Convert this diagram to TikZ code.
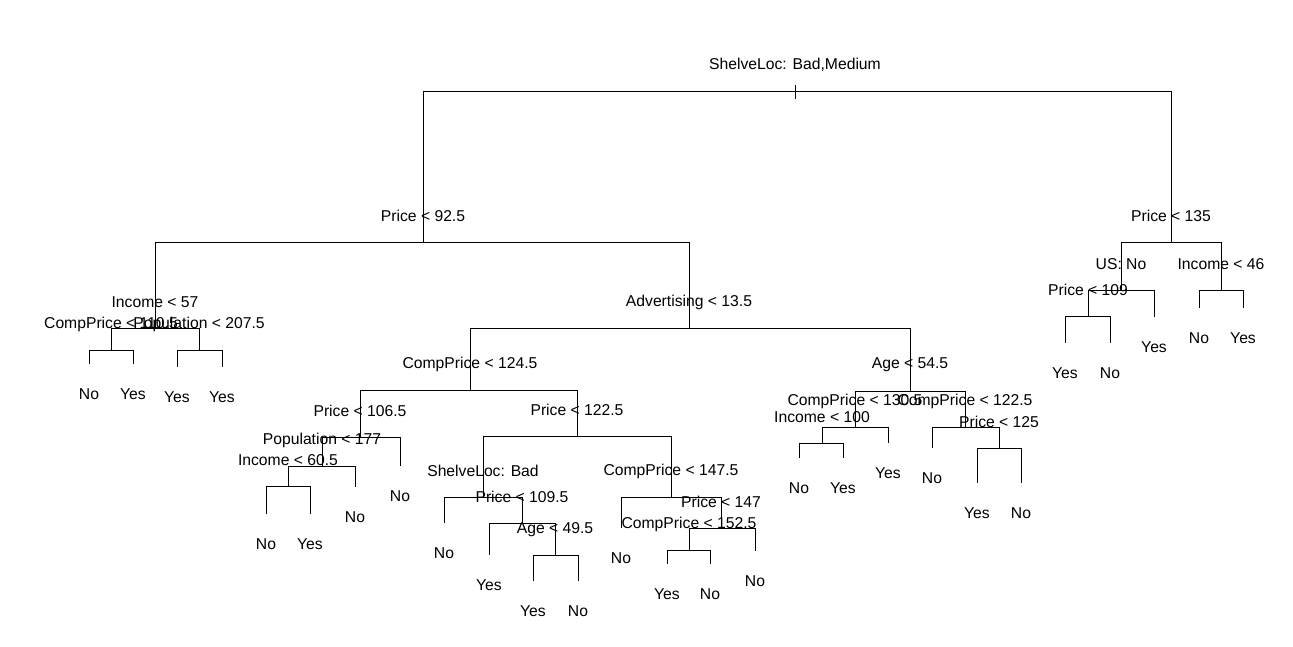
\documentclass[tikz,border=0pt]{standalone}
\usepackage{fontspec}
\setmainfont{Liberation Sans}
\usepackage{tikz}

\begin{document}
\begin{tikzpicture}[
    x=1pt, y=-1pt,
    splitlab/.style={font=\fontsize{15.7}{18}\selectfont, inner sep=0pt, yshift=25.8pt},
    leaflab/.style={font=\fontsize{15.7}{18}\selectfont, inner sep=0pt, yshift=-30.5pt},
    branch/.style={line width=0.9pt}
]
\useasboundingbox (0,0) rectangle (1293,646);

% split points
\coordinate (root) at (795,91);
\coordinate (p925) at (423,242);
\coordinate (inc57) at (155,328);
\coordinate (cp1105) at (111,350);
\coordinate (pop2075) at (199,350);
\coordinate (adv135) at (689,328);
\coordinate (cp1245) at (470,390);
\coordinate (p1065) at (360,437);
\coordinate (pop177) at (322,466);
\coordinate (inc605) at (288,486);
\coordinate (p1225) at (577,436);
\coordinate (shBad) at (483,497);
\coordinate (p1095) at (522,523);
\coordinate (age495) at (555,555);
\coordinate (cp1475) at (671,497);
\coordinate (p147) at (721,528);
\coordinate (cp1525) at (689,550);
\coordinate (age545) at (910,391);
\coordinate (cp1305) at (855,427);
\coordinate (inc100) at (822,443);
\coordinate (cp1225) at (965,427);
\coordinate (p125) at (999,448);
\coordinate (p135) at (1171,242);
\coordinate (usNo) at (1121,290);
\coordinate (p109) at (1088,316);
\coordinate (inc46) at (1221,290);

% leaf ends
\coordinate (l1) at (89,364);
\coordinate (l2) at (133,364);
\coordinate (l3) at (177,367);
\coordinate (l4) at (222,367);
\coordinate (l5) at (266,514);
\coordinate (l6) at (310,514);
\coordinate (l7) at (355,487);
\coordinate (l8) at (400,466);
\coordinate (l9) at (444,523);
\coordinate (l10) at (489,555);
\coordinate (l11) at (533,581);
\coordinate (l12) at (578,581);
\coordinate (l13) at (621,528);
\coordinate (l14) at (667,564);
\coordinate (l15) at (710,564);
\coordinate (l16) at (755,551);
\coordinate (l17) at (799,458);
\coordinate (l18) at (843,458);
\coordinate (l19) at (888,443);
\coordinate (l20) at (932,448);
\coordinate (l21) at (977,483);
\coordinate (l22) at (1021,483);
\coordinate (l23) at (1065,343);
\coordinate (l24) at (1110,343);
\coordinate (l25) at (1154,317);
\coordinate (l26) at (1199,308);
\coordinate (l27) at (1243,308);
\coordinate (rtTop) at (795,85);
\coordinate (rtBot) at (795,99);

% split labels
\node[splitlab] (tRoot) at (root) {ShelveLoc: Bad,Medium};
\node[splitlab] (tP925) at (p925) {Price < 92.5};
\node[splitlab] (tInc57) at (inc57) {Income < 57};
\node[splitlab] (tCp1105) at (cp1105) {CompPrice < 110.5};
\node[splitlab] (tPop2075) at (pop2075) {Population < 207.5};
\node[splitlab] (tAdv135) at (adv135) {Advertising < 13.5};
\node[splitlab] (tCp1245) at (cp1245) {CompPrice < 124.5};
\node[splitlab] (tP1065) at (p1065) {Price < 106.5};
\node[splitlab] (tPop177) at (pop177) {Population < 177};
\node[splitlab] (tInc605) at (inc605) {Income < 60.5};
\node[splitlab] (tP1225) at (p1225) {Price < 122.5};
\node[splitlab] (tShBad) at (shBad) {ShelveLoc: Bad};
\node[splitlab] (tP1095) at (p1095) {Price < 109.5};
\node[splitlab] (tAge495) at (age495) {Age < 49.5};
\node[splitlab] (tCp1475) at (cp1475) {CompPrice < 147.5};
\node[splitlab] (tP147) at (p147) {Price < 147};
\node[splitlab] (tCp1525) at (cp1525) {CompPrice < 152.5};
\node[splitlab] (tAge545) at (age545) {Age < 54.5};
\node[splitlab] (tCp1305) at (cp1305) {CompPrice < 130.5};
\node[splitlab] (tInc100) at (inc100) {Income < 100};
\node[splitlab] (tCp1225) at (cp1225) {CompPrice < 122.5};
\node[splitlab] (tP125) at (p125) {Price < 125};
\node[splitlab] (tP135) at (p135) {Price < 135};
\node[splitlab] (tUsNo) at (usNo) {US: No};
\node[splitlab] (tP109) at (p109) {Price < 109};
\node[splitlab] (tInc46) at (inc46) {Income < 46};

% leaf labels
\node[leaflab] (t1) at (l1) {No};
\node[leaflab] (t2) at (l2) {Yes};
\node[leaflab] (t3) at (l3) {Yes};
\node[leaflab] (t4) at (l4) {Yes};
\node[leaflab] (t5) at (l5) {No};
\node[leaflab] (t6) at (l6) {Yes};
\node[leaflab] (t7) at (l7) {No};
\node[leaflab] (t8) at (l8) {No};
\node[leaflab] (t9) at (l9) {No};
\node[leaflab] (t10) at (l10) {Yes};
\node[leaflab] (t11) at (l11) {Yes};
\node[leaflab] (t12) at (l12) {No};
\node[leaflab] (t13) at (l13) {No};
\node[leaflab] (t14) at (l14) {Yes};
\node[leaflab] (t15) at (l15) {No};
\node[leaflab] (t16) at (l16) {No};
\node[leaflab] (t17) at (l17) {No};
\node[leaflab] (t18) at (l18) {Yes};
\node[leaflab] (t19) at (l19) {Yes};
\node[leaflab] (t20) at (l20) {No};
\node[leaflab] (t21) at (l21) {Yes};
\node[leaflab] (t22) at (l22) {No};
\node[leaflab] (t23) at (l23) {Yes};
\node[leaflab] (t24) at (l24) {No};
\node[leaflab] (t25) at (l25) {Yes};
\node[leaflab] (t26) at (l26) {No};
\node[leaflab] (t27) at (l27) {Yes};

% branches
\draw[branch] (rtTop) -- (rtBot);
\draw[branch] (root) -| (p925);
\draw[branch] (root) -| (p135);
\draw[branch] (p925) -| (inc57);
\draw[branch] (p925) -| (adv135);
\draw[branch] (inc57) -| (cp1105);
\draw[branch] (inc57) -| (pop2075);
\draw[branch] (cp1105) -| (l1);
\draw[branch] (cp1105) -| (l2);
\draw[branch] (pop2075) -| (l3);
\draw[branch] (pop2075) -| (l4);
\draw[branch] (adv135) -| (cp1245);
\draw[branch] (adv135) -| (age545);
\draw[branch] (cp1245) -| (p1065);
\draw[branch] (cp1245) -| (p1225);
\draw[branch] (p1065) -| (pop177);
\draw[branch] (p1065) -| (l8);
\draw[branch] (pop177) -| (inc605);
\draw[branch] (pop177) -| (l7);
\draw[branch] (inc605) -| (l5);
\draw[branch] (inc605) -| (l6);
\draw[branch] (p1225) -| (shBad);
\draw[branch] (p1225) -| (cp1475);
\draw[branch] (shBad) -| (l9);
\draw[branch] (shBad) -| (p1095);
\draw[branch] (p1095) -| (l10);
\draw[branch] (p1095) -| (age495);
\draw[branch] (age495) -| (l11);
\draw[branch] (age495) -| (l12);
\draw[branch] (cp1475) -| (l13);
\draw[branch] (cp1475) -| (p147);
\draw[branch] (p147) -| (cp1525);
\draw[branch] (p147) -| (l16);
\draw[branch] (cp1525) -| (l14);
\draw[branch] (cp1525) -| (l15);
\draw[branch] (age545) -| (cp1305);
\draw[branch] (age545) -| (cp1225);
\draw[branch] (cp1305) -| (inc100);
\draw[branch] (cp1305) -| (l19);
\draw[branch] (inc100) -| (l17);
\draw[branch] (inc100) -| (l18);
\draw[branch] (cp1225) -| (l20);
\draw[branch] (cp1225) -| (p125);
\draw[branch] (p125) -| (l21);
\draw[branch] (p125) -| (l22);
\draw[branch] (p135) -| (usNo);
\draw[branch] (p135) -| (inc46);
\draw[branch] (usNo) -| (p109);
\draw[branch] (usNo) -| (l25);
\draw[branch] (p109) -| (l23);
\draw[branch] (p109) -| (l24);
\draw[branch] (inc46) -| (l26);
\draw[branch] (inc46) -| (l27);
\end{tikzpicture}
\end{document}
